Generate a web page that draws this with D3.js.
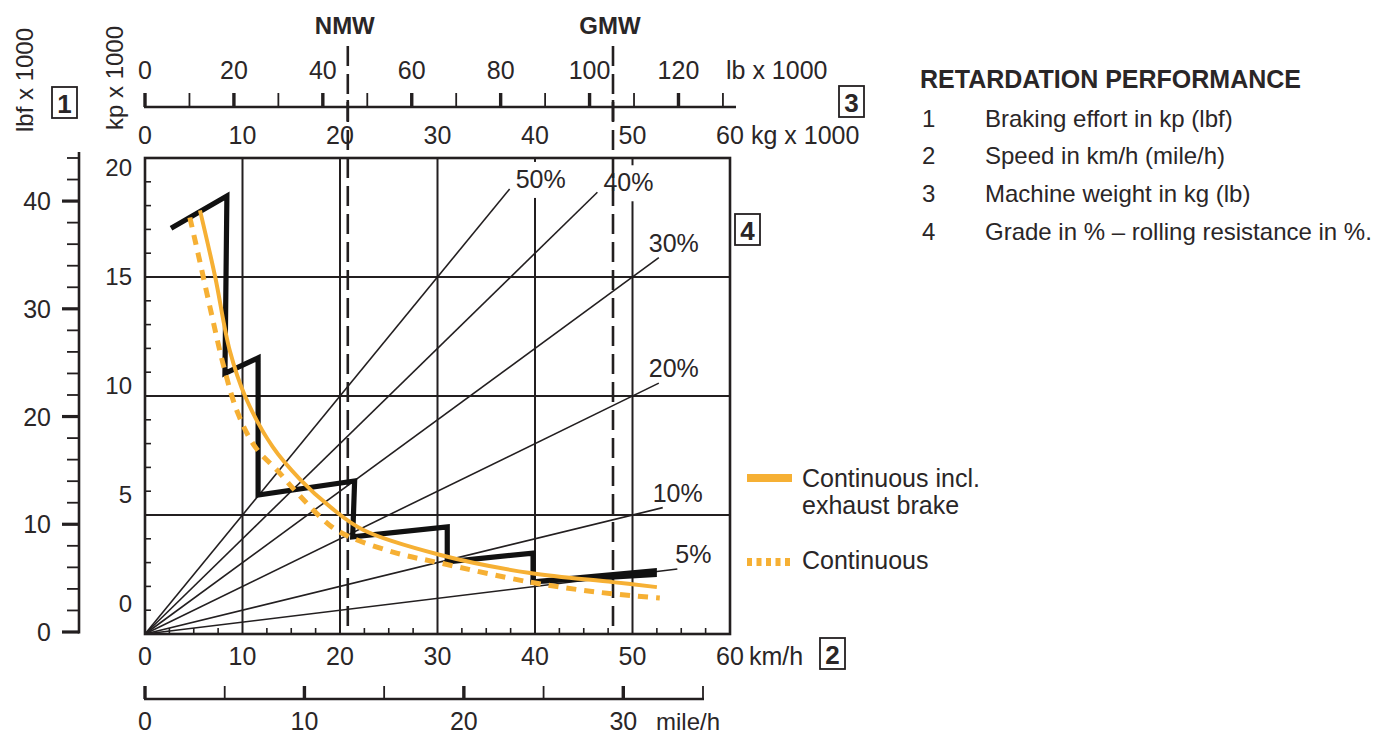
<!DOCTYPE html>
<html>
<head>
<meta charset="utf-8">
<script src="https://cdn.jsdelivr.net/npm/d3@7"></script>
<style>
  html, body { margin: 0; padding: 0; background: #ffffff; }
  svg { display: block; }
  text { font-family: "Liberation Sans", Arial, Helvetica, sans-serif; fill: #2a2627; }
</style>
</head>
<body>
<svg id="chart" width="1383" height="734"></svg>
<script>
// ---------------- data ----------------
const kmhTicks = [0, 10, 20, 30, 40, 50, 60];
const kpTicks = [0, 5, 10, 15, 20];
const lbfTicks = [0, 10, 20, 30, 40];
const kgTicks = [0, 10, 20, 30, 40, 50, 60];
const lbTicks = [0, 20, 40, 60, 80, 100, 120];
const mphTicks = [0, 10, 20, 30];

const grades = [50, 40, 30, 20, 10, 5];            // grade %
const gradeEndKg = [37.4, 46.4, 52.7, 52.7, 53.1, 54.6]; // where each grade line stops

const markerNames = ["NMW", "GMW"];
const markerKg = [20.8, 48.0];

// black stepped retardation curve (km/h, kp x 1000)
const stepSpeed = [2.9, 8.4, 8.2, 11.6, 11.6, 21.5, 21.3, 31.0, 31.0, 39.8, 39.8, 52.5];
const stepForce = [17.1, 18.4, 10.95, 11.6, 5.84, 6.43, 4.08, 4.5, 3.03, 3.4, 2.18, 2.56];

// orange solid: continuous incl. exhaust brake
const exhSpeed = [5.64, 7.2, 8.7, 10.3, 13.1, 15.9, 19.0, 22.4, 30.3, 39.5, 48.0, 52.5];
const exhForce = [17.8, 15.0, 11.9, 9.96, 7.86, 6.5, 5.34, 4.37, 3.32, 2.56, 2.18, 1.97];

// orange dashed: continuous
const contSpeed = [4.6, 5.6, 6.9, 8.1, 9.5, 11.3, 13.5, 15.9, 19.0, 21.0, 25.8, 30.3, 39.5, 46.4, 52.8];
const contForce = [17.5, 15.7, 13.3, 11.2, 9.3, 7.86, 6.9, 5.8, 4.55, 4.08, 3.4, 2.98, 2.18, 1.76, 1.51];

const legendLabels = [["Continuous incl.", "exhaust brake"], ["Continuous"]];
const titleText = "RETARDATION PERFORMANCE";
const itemNums = ["1", "2", "3", "4"];
const itemTexts = [
  "Braking effort in kp (lbf)",
  "Speed in km/h (mile/h)",
  "Machine weight in kg (lb)",
  "Grade in % \u2013 rolling resistance in %."
];

// ---------------- scales ----------------
const LB_TO_KG = 0.4536;
const x = d3.scaleLinear().domain([0, 60]).range([145, 730]);      // km/h and kg x 1000
const y = d3.scaleLinear().domain([0, 20]).range([634, 158]);      // kp x 1000
const yKpLabel = d3.scaleLinear().domain([0, 20]).range([603, 167]); // printed kp label positions
const xLb = d3.scaleLinear().domain([0, 130]).range([x(0), x(130 * LB_TO_KG) + 3]);
const yLbf = d3.scaleLinear().domain([0, 44]).range([y(0) - 2, y(44 * LB_TO_KG) - 1]);
const xMph = d3.scaleLinear().domain([0, 35]).range([145, 703]);

const ORANGE = "#f6b034";
const INK = "#231f20";
const svg = d3.select("#chart");

// ---------------- plot frame & grid ----------------
const plot = svg.append("g");
plot.selectAll("line.vgrid").data(kmhTicks.filter(d => d > 0 && d < 60)).join("line")
  .attr("x1", d => x(d)).attr("x2", d => x(d)).attr("y1", y(20)).attr("y2", y(0))
  .attr("stroke", INK).attr("stroke-width", 2);
plot.selectAll("line.hgrid").data(kpTicks.filter(d => d > 0 && d < 20)).join("line")
  .attr("x1", x(0)).attr("x2", x(60)).attr("y1", d => y(d)).attr("y2", d => y(d))
  .attr("stroke", INK).attr("stroke-width", 2);

// minor ticks inside frame
plot.selectAll("line.ltick").data(d3.range(1, 20)).join("line")
  .attr("x1", x(0)).attr("x2", x(0) + 6).attr("y1", d => y(d)).attr("y2", d => y(d))
  .attr("stroke", INK).attr("stroke-width", 1.6);
plot.selectAll("line.btick").data(d3.range(2.5, 60, 2.5).filter(d => d % 10 !== 0)).join("line")
  .attr("x1", d => x(d)).attr("x2", d => x(d)).attr("y1", y(0)).attr("y2", y(0) - 6)
  .attr("stroke", INK).attr("stroke-width", 1.6);

// grade lines
plot.selectAll("line.grade").data(grades).join("line")
  .attr("x1", x(0)).attr("y1", y(0))
  .attr("x2", (d, i) => x(gradeEndKg[i]))
  .attr("y2", (d, i) => y(gradeEndKg[i] * d / 100))
  .attr("stroke", INK).attr("stroke-width", 1.6);

plot.append("rect").attr("x", x(0)).attr("y", y(20)).attr("width", x(60) - x(0)).attr("height", y(0) - y(20))
  .attr("fill", "none").attr("stroke", INK).attr("stroke-width", 2.6);

// grade labels with white knock-out
const gl = plot.selectAll("g.glab").data(grades).join("g");
gl.each(function(d, i) {
  const ex = x(gradeEndKg[i]), ey = y(gradeEndKg[i] * d / 100);
  const steep = d >= 40;
  const tx = steep ? ex + 6 : (d === 5 ? ex - 2 : ex - 10);
  const ty = steep ? ey - 10 : ey - 15;
  const g = d3.select(this);
  const t = g.append("text").attr("x", tx).attr("y", ty).attr("dominant-baseline", "central")
    .attr("font-size", 25).text(d + "%");
  if (steep) {
    const b = t.node().getBBox();
    g.insert("rect", "text").attr("x", b.x - 1).attr("y", b.y - 3).attr("width", b.width + 2).attr("height", b.height + 8)
      .attr("fill", "#fff");
  }
});

// NMW / GMW dashed markers
markerKg.forEach((k, i) => {
  svg.append("line").attr("x1", x(k)).attr("x2", x(k)).attr("y1", 46).attr("y2", y(0))
    .attr("stroke", INK).attr("stroke-width", 2.6).attr("stroke-dasharray", "20,8");
  svg.append("line").attr("x1", x(k)).attr("x2", x(k)).attr("y1", 100).attr("y2", 121)
    .attr("stroke", INK).attr("stroke-width", 2.6);
  svg.append("text").attr("x", x(k) - 3).attr("y", 25).attr("text-anchor", "middle").attr("dominant-baseline", "central")
    .attr("font-size", 24).attr("font-weight", "bold").text(markerNames[i]);
});

// ---------------- curves ----------------
const lineGen = d3.line().x(d => x(d[0])).y(d => y(d[1]));
const stepPts = stepSpeed.map((s, i) => [s, stepForce[i]]);
svg.append("path").attr("d", lineGen(stepPts.slice(0, -1)))
  .attr("fill", "none").attr("stroke", "#111").attr("stroke-width", 5.2)
  .attr("stroke-linejoin", "miter").attr("stroke-linecap", "square");
// final wedge segment (thickening)
{
  const a = stepPts[stepPts.length - 2], b = stepPts[stepPts.length - 1];
  const ax = x(a[0]), ay = y(a[1]), bx = x(b[0]), by = y(b[1]);
  svg.append("path")
    .attr("d", `M${ax - 2.5},${ay - 2.5}L${bx},${by - 5}L${bx},${by + 4}L${ax - 2.5},${ay + 2.5}Z`)
    .attr("fill", "#111");
}

const contPts = contSpeed.map((s, i) => [s, contForce[i]]);
svg.append("path").attr("d", d3.line().curve(d3.curveCatmullRom).x(d => x(d[0])).y(d => y(d[1]))(contPts))
  .attr("fill", "none").attr("stroke", ORANGE).attr("stroke-width", 5).attr("stroke-dasharray", "10,8");
const exhPts = exhSpeed.map((s, i) => [s, exhForce[i]]);
svg.append("path").attr("d", d3.line().curve(d3.curveCatmullRom).x(d => x(d[0])).y(d => y(d[1]))(exhPts))
  .attr("fill", "none").attr("stroke", ORANGE).attr("stroke-width", 4);

// ---------------- axes ----------------
const FS = 25;
// km/h labels
svg.selectAll("text.kmh").data(kmhTicks).join("text")
  .attr("x", d => x(d)).attr("y", 656).attr("text-anchor", "middle").attr("dominant-baseline", "central")
  .attr("font-size", FS).text(d => d);
svg.append("text").attr("x", x(60) + 19).attr("y", 656).attr("dominant-baseline", "central")
  .attr("font-size", FS).text("km/h");

// kp labels (inner left)
svg.selectAll("text.kp").data(kpTicks).join("text")
  .attr("x", 132).attr("y", d => yKpLabel(d)).attr("text-anchor", "end").attr("dominant-baseline", "central")
  .attr("font-size", 24).text(d => d);

// lbf axis (far left)
const lbfAxisX = 79;
svg.append("line").attr("x1", lbfAxisX).attr("x2", lbfAxisX).attr("y1", yLbf(44) - 6).attr("y2", yLbf(0) + 1.5)
  .attr("stroke", INK).attr("stroke-width", 2.6);
svg.selectAll("line.lbft").data(d3.range(0, 45, 2)).join("line")
  .attr("x1", d => d % 10 === 0 ? lbfAxisX - 17 : lbfAxisX - 12).attr("x2", lbfAxisX)
  .attr("y1", d => yLbf(d)).attr("y2", d => yLbf(d))
  .attr("stroke", INK).attr("stroke-width", d => d % 10 === 0 ? 3.2 : 1.8);
svg.selectAll("text.lbf").data(lbfTicks).join("text")
  .attr("x", 51).attr("y", d => yLbf(d)).attr("text-anchor", "end").attr("dominant-baseline", "central")
  .attr("font-size", FS).text(d => d);

// lb axis (top)
const lbAxisY = 107;
svg.append("line").attr("x1", xLb(0) - 1).attr("x2", 736).attr("y1", lbAxisY).attr("y2", lbAxisY)
  .attr("stroke", INK).attr("stroke-width", 2.6);
svg.selectAll("line.lbt").data(d3.range(0, 131, 10)).join("line")
  .attr("x1", d => xLb(d)).attr("x2", d => xLb(d)).attr("y1", lbAxisY).attr("y2", lbAxisY - 14)
  .attr("stroke", INK).attr("stroke-width", d => d % 20 === 0 ? 3.4 : 1.8);
svg.selectAll("text.lb").data(lbTicks).join("text")
  .attr("x", d => xLb(d)).attr("y", 70).attr("text-anchor", "middle").attr("dominant-baseline", "central")
  .attr("font-size", FS).text(d => d);
svg.append("text").attr("x", 726).attr("y", 70).attr("dominant-baseline", "central")
  .attr("font-size", FS).text("lb x 1000");

// kg labels (below lb axis)
svg.selectAll("text.kg").data(kgTicks).join("text")
  .attr("x", d => x(d)).attr("y", 135).attr("text-anchor", "middle").attr("dominant-baseline", "central")
  .attr("font-size", FS).text(d => d);
svg.append("text").attr("x", x(60) + 21).attr("y", 135).attr("dominant-baseline", "central")
  .attr("font-size", FS).text("kg x 1000");

// mile/h axis (bottom)
const mphAxisY = 699;
svg.append("line").attr("x1", xMph(0) - 1).attr("x2", xMph(35) + 1).attr("y1", mphAxisY).attr("y2", mphAxisY)
  .attr("stroke", INK).attr("stroke-width", 2.4);
svg.selectAll("line.mpht").data(d3.range(0, 36, 5)).join("line")
  .attr("x1", d => xMph(d)).attr("x2", d => xMph(d)).attr("y1", mphAxisY).attr("y2", mphAxisY - 13)
  .attr("stroke", INK).attr("stroke-width", d => d % 10 === 0 ? 3.4 : 1.8);
svg.selectAll("text.mph").data(mphTicks).join("text")
  .attr("x", d => xMph(d)).attr("y", 721).attr("text-anchor", "middle").attr("dominant-baseline", "central")
  .attr("font-size", FS).text(d => d);
svg.append("text").attr("x", 656).attr("y", 721).attr("dominant-baseline", "central")
  .attr("font-size", 24).text("mile/h");

// rotated axis titles
svg.append("text").attr("transform", "translate(24,80) rotate(-90)").attr("text-anchor", "middle")
  .attr("dominant-baseline", "central").attr("font-size", 24).text("lbf x 1000");
svg.append("text").attr("transform", "translate(114,78) rotate(-90)").attr("text-anchor", "middle")
  .attr("dominant-baseline", "central").attr("font-size", 24).text("kp x 1000");

// boxed numbers
const boxes = [
  {n: "1", x: 52, y: 87},
  {n: "3", x: 839, y: 86},
  {n: "4", x: 735, y: 214},
  {n: "2", x: 820, y: 638}
];
boxes.forEach(b => {
  svg.append("rect").attr("x", b.x).attr("y", b.y).attr("width", 25).attr("height", 31)
    .attr("fill", "none").attr("stroke", INK).attr("stroke-width", 1.8);
  svg.append("text").attr("x", b.x + 12.5).attr("y", b.y + 16.5).attr("text-anchor", "middle")
    .attr("dominant-baseline", "central").attr("font-size", 26).attr("font-weight", "bold").text(b.n);
});

// ---------------- legend ----------------
const leg = svg.append("g");
leg.append("line").attr("x1", 747).attr("x2", 792).attr("y1", 478).attr("y2", 478)
  .attr("stroke", ORANGE).attr("stroke-width", 8);
leg.append("line").attr("x1", 747).attr("x2", 792).attr("y1", 562).attr("y2", 562)
  .attr("stroke", ORANGE).attr("stroke-width", 8).attr("stroke-dasharray", "5,4.5");
legendLabels.forEach((lines, i) => {
  lines.forEach((t, j) => {
    leg.append("text").attr("x", 802).attr("y", (i === 0 ? 478 : 560) + j * 27)
      .attr("dominant-baseline", "central").attr("font-size", 25).text(t);
  });
});

// ---------------- description block ----------------
svg.append("text").attr("x", 920).attr("y", 79).attr("dominant-baseline", "central")
  .attr("font-size", 25).attr("font-weight", "bold").text(titleText);
itemNums.forEach((n, i) => {
  const yy = 118 + i * 37.8;
  svg.append("text").attr("x", 922).attr("y", yy).attr("dominant-baseline", "central").attr("font-size", 24).text(n);
  svg.append("text").attr("x", 985).attr("y", yy).attr("dominant-baseline", "central").attr("font-size", 24).text(itemTexts[i]);
});
</script>
</body>
</html>
